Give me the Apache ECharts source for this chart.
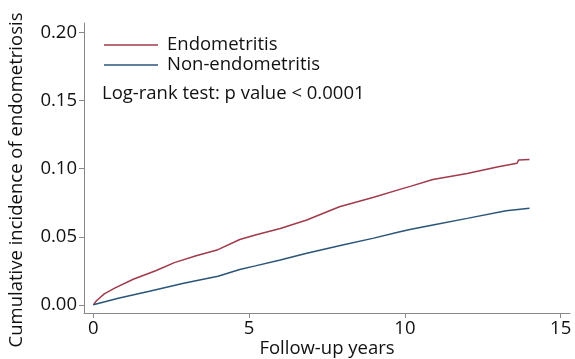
<!DOCTYPE html>
<html>
<head>
<meta charset="utf-8">
<script src="https://cdn.jsdelivr.net/npm/echarts@6/dist/echarts.min.js"></script>
<style>html,body{margin:0;padding:0;background:#fff}#c{width:575px;height:359px}</style>
</head>
<body>
<div id="c"></div>
<script>
var seriesNames = ['Endometritis', 'Non-endometritis'];
var endoYears = [0, 0.1, 0.35, 0.7, 1.3, 2.0, 2.6, 3.3, 4.0, 4.7, 5.2, 6.0, 6.85, 7.9, 9.0, 9.84, 10.2, 10.9, 12.0, 13.0, 13.6, 13.65, 14.0];
var endoValues = [0, 0.003, 0.008, 0.0125, 0.019, 0.025, 0.031, 0.036, 0.0405, 0.048, 0.0513, 0.056, 0.0623, 0.072, 0.079, 0.0848, 0.0872, 0.092, 0.0965, 0.1014, 0.104, 0.1063, 0.1068];
var nonYears = [0, 0.8, 1.8, 2.9, 4.0, 4.7, 5.2, 6.0, 6.85, 8.0, 9.0, 9.84, 10.2, 10.9, 12.0, 13.25, 14.0];
var nonValues = [0, 0.0049, 0.010, 0.0159, 0.021, 0.026, 0.0286, 0.033, 0.0379, 0.044, 0.049, 0.0537, 0.0555, 0.0587, 0.0635, 0.0691, 0.0709];
var xTicks = [0, 5, 10, 15];
var yTicks = [0, 0.05, 0.10, 0.15, 0.20];
var xTitle = 'Follow-up years';
var yTitle = 'Cumulative incidence of endometriosis';
var noteText = 'Log-rank test: p value < 0.0001';

function pairs(xs, ys) { return xs.map(function (x, i) { return [x, ys[i]]; }); }

var FONT = 'Open Sans';
var FS = 18.5;
var chart = echarts.init(document.getElementById('c'));
chart.setOption({
  animation: false,
  textStyle: { fontFamily: FONT },
  grid: { left: 84, right: 5, top: 23, bottom: 46, outerBoundsMode: 'none', containLabel: false },
  legend: {
    orient: 'vertical', left: 104, top: 35, itemGap: 0, padding: 0,
    itemWidth: 54, itemHeight: 1.5, icon: 'rect',
    textStyle: { fontFamily: FONT, fontSize: FS, color: '#111', lineHeight: 20, padding: [0, 0, 0, 4] },
    data: seriesNames
  },
  graphic: [{
    type: 'text', left: 102, top: 84,
    style: { text: noteText, fontFamily: FONT, fontSize: FS, fill: '#111' }
  }, {
    type: 'text', x: 17, y: 180, rotation: Math.PI / 2,
    style: { text: yTitle, fontFamily: FONT, fontSize: FS, fill: '#111', align: 'center', verticalAlign: 'middle' }
  }],
  xAxis: {
    type: 'value', min: -0.3, max: 15.3,
    name: xTitle, nameLocation: 'middle', nameGap: 26, nameMoveOverlap: false,
    nameTextStyle: { fontSize: FS, color: '#111', fontFamily: FONT },
    axisLine: { onZero: false, lineStyle: { color: '#888', width: 1 } },
    axisTick: { show: true, length: 5, lineStyle: { color: '#888' }, customValues: xTicks },
    axisLabel: { fontSize: FS, color: '#111', margin: 6, customValues: xTicks, formatter: function (v) { return String(v); } },
    splitLine: { show: false }
  },
  yAxis: {
    type: 'value', min: -0.006, max: 0.207,
    axisLine: { onZero: false, lineStyle: { color: '#888', width: 1 } },
    axisTick: { show: true, length: 5, lineStyle: { color: '#888' }, customValues: yTicks },
    axisLabel: { fontSize: FS, color: '#111', margin: 7, customValues: yTicks, formatter: function (v) { return v.toFixed(2); } },
    splitLine: { show: false }
  },
  series: [
    { name: seriesNames[0], type: 'line', showSymbol: false, symbol: 'none',
      data: pairs(endoYears, endoValues), lineStyle: { color: '#a03a4c', width: 1.5 }, itemStyle: { color: '#a03a4c' } },
    { name: seriesNames[1], type: 'line', showSymbol: false, symbol: 'none',
      data: pairs(nonYears, nonValues), lineStyle: { color: '#2a5578', width: 1.5 }, itemStyle: { color: '#2a5578' } }
  ]
});
</script>
</body>
</html>
